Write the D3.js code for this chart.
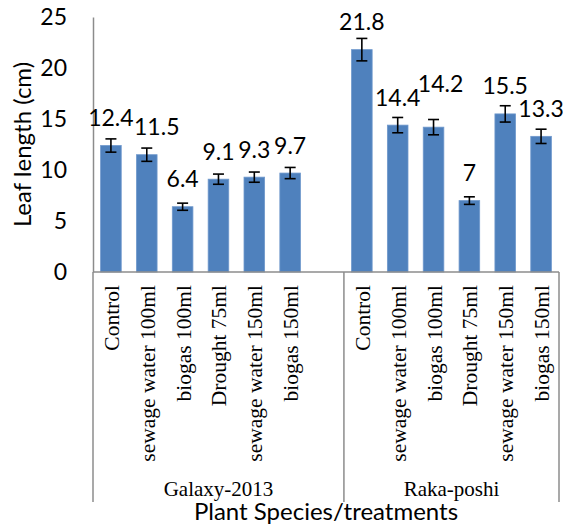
<!DOCTYPE html>
<head>
  <meta charset="utf-8">
  <script src="https://d3js.org/d3.v7.min.js"></script>
  <style>
    body { margin:0; background:#fff; }
    svg { display:block; }
  </style>
</head>
<body>
<script>
// chart data
var groups = ["Galaxy-2013", "Raka-poshi"];
var treatments = ["Control", "sewage water 100ml", "biogas 100ml", "Drought 75ml", "sewage water 150ml", "biogas 150ml"];
var galaxyValues = [12.4, 11.5, 6.4, 9.1, 9.3, 9.7];
var galaxyErrors = [0.65, 0.65, 0.35, 0.5, 0.5, 0.55];
var rakaValues = [21.8, 14.4, 14.2, 7, 15.5, 13.3];
var rakaErrors = [1.1, 0.75, 0.75, 0.37, 0.8, 0.7];
var yTicks = [0, 5, 10, 15, 20, 25];

var width = 563, height = 527;
var svg = d3.select("body").append("svg")
  .attr("width", width)
  .attr("height", height);

// rows; Galaxy has one blank slot at its end (as in the source sheet)
var rows = [];
treatments.forEach(function(t, i) {
  rows.push({key: "G" + i, group: groups[0], name: t, value: galaxyValues[i], err: galaxyErrors[i]});
});
rows.push({key: "G-blank", group: groups[0], name: "", value: null, err: 0});
treatments.forEach(function(t, i) {
  rows.push({key: "R" + i, group: groups[1], name: t, value: rakaValues[i], err: rakaErrors[i]});
});

var plotLeft = 93, plotRight = 559, plotTop = 17, base = 272, bottomLine = 502;

var x = d3.scaleBand()
  .domain(rows.map(function(d) { return d.key; }))
  .range([plotLeft, plotRight])
  .padding(0);

var y = d3.scaleLinear()
  .domain([0, 25])
  .range([base, plotTop]);

var barW = x.bandwidth() * 0.575;
var axisColor = "#8c8c8c";

// y axis
var yAxis = svg.append("g")
  .attr("transform", "translate(" + plotLeft + ",0)")
  .call(d3.axisLeft(y).tickValues(yTicks).tickSize(0).tickPadding(26));
yAxis.select(".domain").attr("stroke", axisColor).attr("stroke-width", 1.5);
yAxis.selectAll("text")
  .attr("font-family", "Lato, sans-serif")
  .attr("font-size", 23)
  .attr("fill", "#000");

// bars
var data = rows.filter(function(d) { return d.value !== null; });
svg.selectAll("rect.bar")
  .data(data)
  .enter()
  .append("rect")
  .attr("class", "bar")
  .attr("x", function(d) { return x(d.key) + (x.bandwidth() - barW) / 2; })
  .attr("y", function(d) { return y(d.value); })
  .attr("width", barW)
  .attr("height", function(d) { return base - y(d.value); })
  .attr("fill", "#4f81bd")
  .attr("stroke", "#6f98cc")
  .attr("stroke-width", 0.8);

// error bars
var cx = function(d) { return x(d.key) + x.bandwidth() / 2; };
var eb = svg.append("g").attr("stroke", "#000").attr("stroke-width", 1.6);
data.forEach(function(d) {
  var c = cx(d), y1 = y(d.value + d.err), y2 = y(d.value - d.err);
  eb.append("line").attr("x1", c).attr("x2", c).attr("y1", y1).attr("y2", y2);
  eb.append("line").attr("x1", c - 5.5).attr("x2", c + 5.5).attr("y1", y1).attr("y2", y1);
  eb.append("line").attr("x1", c - 5.5).attr("x2", c + 5.5).attr("y1", y2).attr("y2", y2);
});

// value labels (a couple were nudged in the original to avoid overlaps)
var nudge = {G1: [10, 0], R2: [7, -16]};
svg.selectAll("text.val")
  .data(data)
  .enter()
  .append("text")
  .attr("class", "val")
  .attr("x", function(d) { return cx(d) + (nudge[d.key] ? nudge[d.key][0] : 0); })
  .attr("y", function(d) { return y(d.value) - 19.5 + (nudge[d.key] ? nudge[d.key][1] : 0); })
  .attr("text-anchor", "middle")
  .attr("font-family", "Lato, sans-serif")
  .attr("font-size", 23)
  .text(function(d) { return d.value; });

// category frame: baseline and group dividers
var frame = svg.append("g").attr("stroke", axisColor).attr("stroke-width", 1.5);
frame.append("line").attr("x1", plotLeft).attr("x2", plotRight).attr("y1", base).attr("y2", base);
var divX = x("R0");
[plotLeft, divX, plotRight].forEach(function(px) {
  frame.append("line").attr("x1", px).attr("x2", px).attr("y1", base).attr("y2", bottomLine);
});

// rotated treatment labels
svg.selectAll("text.cat")
  .data(data)
  .enter()
  .append("text")
  .attr("class", "cat")
  .attr("transform", function(d) { return "translate(" + (cx(d) + 8) + ",285)rotate(-90)"; })
  .attr("text-anchor", "end")
  .attr("font-family", "'Liberation Serif', 'Times New Roman', serif")
  .attr("font-size", 21.5)
  .text(function(d) { return d.name; });

// group labels
var spans = [[plotLeft, divX], [divX, plotRight]];
groups.forEach(function(g, i) {
  svg.append("text")
    .attr("x", (spans[i][0] + spans[i][1]) / 2)
    .attr("y", 496)
    .attr("text-anchor", "middle")
    .attr("font-family", "'Liberation Serif', 'Times New Roman', serif")
    .attr("font-size", 21)
    .text(g);
});

// axis titles
svg.append("text")
  .attr("x", (plotLeft + plotRight) / 2)
  .attr("y", 520)
  .attr("text-anchor", "middle")
  .attr("font-family", "Lato, sans-serif")
  .attr("font-size", 24)
  .text("Plant Species/treatments");

svg.append("text")
  .attr("transform", "translate(31," + ((plotTop + base) / 2) + ")rotate(-90)")
  .attr("text-anchor", "middle")
  .attr("font-family", "Lato, sans-serif")
  .attr("font-size", 24)
  .text("Leaf length (cm)");
</script>
</body>
